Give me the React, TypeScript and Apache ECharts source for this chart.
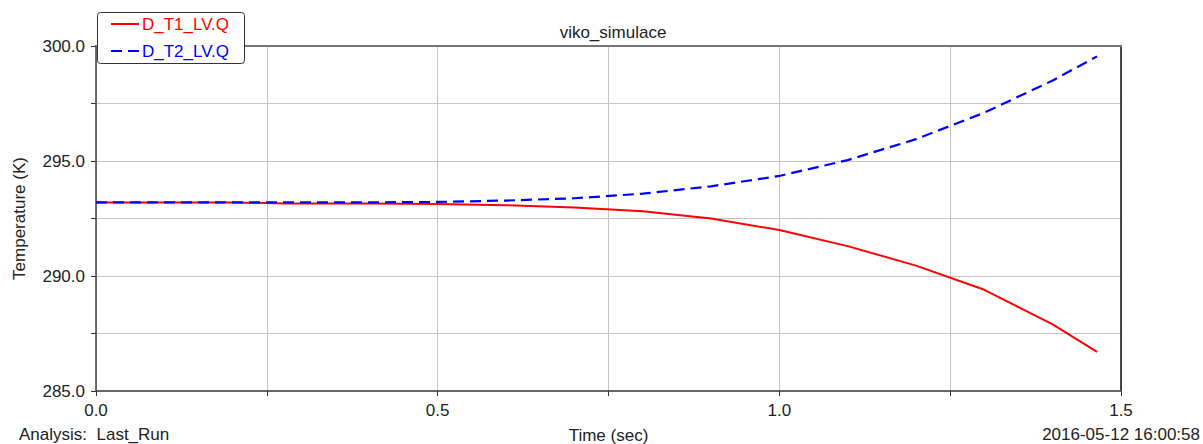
import React, { useEffect, useRef } from "react";
import * as echarts from "echarts";

// Simulation output: time (sec) and liquid temperatures (K)
const timeSec = [0, 0.1, 0.2, 0.28, 0.3, 0.4, 0.5, 0.6, 0.7, 0.8, 0.9, 1.0, 1.1, 1.2, 1.3, 1.4, 1.465];
const tempT1 = [293.2, 293.2, 293.2, 293.15, 293.15, 293.15, 293.13, 293.08, 292.98, 292.82, 292.5, 292.0, 291.3, 290.45, 289.4, 287.9, 286.7];
const tempT2 = [293.2, 293.2, 293.2, 293.2, 293.2, 293.2, 293.22, 293.28, 293.38, 293.58, 293.9, 294.35, 295.04, 295.95, 297.1, 298.5, 299.55];

const seriesNames = ["D_T1_LV.Q", "D_T2_LV.Q"];
const seriesColors = ["#ff0000", "#0000ff"];
const chartTitle = "viko_simulace";
const analysisLabel = "Analysis:  Last_Run";
const timestampLabel = "2016-05-12 16:00:58";

const FONT = "Liberation Sans, Arial, sans-serif";
const TEXT = "#222";
const BLUE_DASH = [11, 6];

export default function App() {
  const ref = useRef<HTMLDivElement>(null);

  useEffect(() => {
    document.body.style.margin = "0";
    if (!ref.current) return;
    const chart = echarts.init(ref.current, undefined, { renderer: "svg" });

    const pairs = (ys: number[]) => timeSec.map((t, i) => [t, ys[i]]);

    // Boxed legend in the top-left corner, overlapping the plot frame
    const legendBox = { x: 97, y: 12, w: 147, h: 51 };
    const legendRows = [24, 51];
    const legendGraphics: any[] = [
      {
        type: "rect",
        z: 100,
        shape: { x: legendBox.x + 0.5, y: legendBox.y + 0.5, width: legendBox.w, height: legendBox.h, r: 3 },
        style: { fill: "#fff", stroke: "#333", lineWidth: 1 },
      },
    ];
    seriesNames.forEach((name, i) => {
      legendGraphics.push({
        type: "line",
        z: 101,
        shape: { x1: 111, y1: legendRows[i], x2: 139, y2: legendRows[i] },
        style: {
          stroke: seriesColors[i],
          lineWidth: 2,
          lineDash: i === 1 ? BLUE_DASH : null,
        },
      });
      legendGraphics.push({
        type: "text",
        z: 101,
        x: 142,
        y: legendRows[i],
        style: {
          text: name,
          font: `17px ${FONT}`,
          fill: seriesColors[i],
          verticalAlign: "middle",
        },
      });
    });

    chart.setOption({
      animation: false,
      backgroundColor: "#fff",
      textStyle: { fontFamily: FONT, color: TEXT },
      title: {
        text: chartTitle,
        left: 608,
        textAlign: "center",
        top: 19,
        textStyle: { fontFamily: FONT, fontSize: 17, fontWeight: "normal", color: TEXT },
      },
      grid: { left: 96, right: 82, top: 46, bottom: 53, containLabel: false, outerBoundsMode: "none" },
      xAxis: [
        {
          type: "value",
          min: 0,
          max: 1.5,
          interval: 0.5,
          name: "Time (sec)",
          nameLocation: "middle",
          nameGap: 36,
          nameTextStyle: { fontFamily: FONT, fontSize: 17, color: TEXT },
          axisLine: { show: true, onZero: false, lineStyle: { color: "#666", width: 2 } },
          axisTick: { show: true, length: 5, lineStyle: { color: "#333" } },
          minorTick: { show: true, splitNumber: 2, length: 5, lineStyle: { color: "#333" } },
          axisLabel: {
            fontFamily: FONT,
            fontSize: 17,
            color: TEXT,
            margin: 11,
            formatter: (v: number) => v.toFixed(1),
          },
          splitLine: { show: true, lineStyle: { color: "#c4c4c4", width: 1 } },
          minorSplitLine: { show: true, lineStyle: { color: "#c4c4c4", width: 1 } },
        },
        {
          type: "value",
          position: "top",
          min: 0,
          max: 1.5,
          axisLine: { show: true, onZero: false, lineStyle: { color: "#777", width: 2 } },
          axisTick: { show: false },
          axisLabel: { show: false },
          splitLine: { show: false },
        },
      ],
      yAxis: [
        {
          type: "value",
          min: 285,
          max: 300,
          interval: 5,
          name: "Temperature (K)",
          nameLocation: "middle",
          nameGap: 68,
          nameTextStyle: { fontFamily: FONT, fontSize: 17, color: TEXT },
          axisLine: { show: true, onZero: false, lineStyle: { color: "#444", width: 1.5 } },
          axisTick: { show: true, length: 5, lineStyle: { color: "#333" } },
          minorTick: { show: true, splitNumber: 2, length: 5, lineStyle: { color: "#333" } },
          axisLabel: {
            fontFamily: FONT,
            fontSize: 17,
            color: TEXT,
            margin: 11,
            formatter: (v: number) => v.toFixed(1),
          },
          splitLine: { show: true, lineStyle: { color: "#c4c4c4", width: 1 } },
          minorSplitLine: { show: true, lineStyle: { color: "#c4c4c4", width: 1 } },
        },
        {
          type: "value",
          position: "right",
          min: 285,
          max: 300,
          axisLine: { show: true, onZero: false, lineStyle: { color: "#111", width: 1.5 } },
          axisTick: { show: false },
          axisLabel: { show: false },
          splitLine: { show: false },
        },
      ],
      series: [
        {
          name: seriesNames[0],
          type: "line",
          data: pairs(tempT1),
          symbol: "none",
          lineStyle: { color: seriesColors[0], width: 2 },
          itemStyle: { color: seriesColors[0] },
          z: 3,
        },
        {
          name: seriesNames[1],
          type: "line",
          data: pairs(tempT2),
          symbol: "none",
          lineStyle: { color: seriesColors[1], width: 2.2, type: BLUE_DASH },
          itemStyle: { color: seriesColors[1] },
          z: 4,
        },
      ],
      graphic: [
        ...legendGraphics,
        {
          type: "text",
          left: 19,
          top: 426,
          style: { text: analysisLabel, font: `17px ${FONT}`, fill: TEXT },
        },
        {
          type: "text",
          right: 3,
          top: 426,
          style: { text: timestampLabel, font: `17px ${FONT}`, fill: TEXT },
        },
      ],
    });

    return () => chart.dispose();
  }, []);

  return <div ref={ref} style={{ width: 1203, height: 444 }} />;
}
